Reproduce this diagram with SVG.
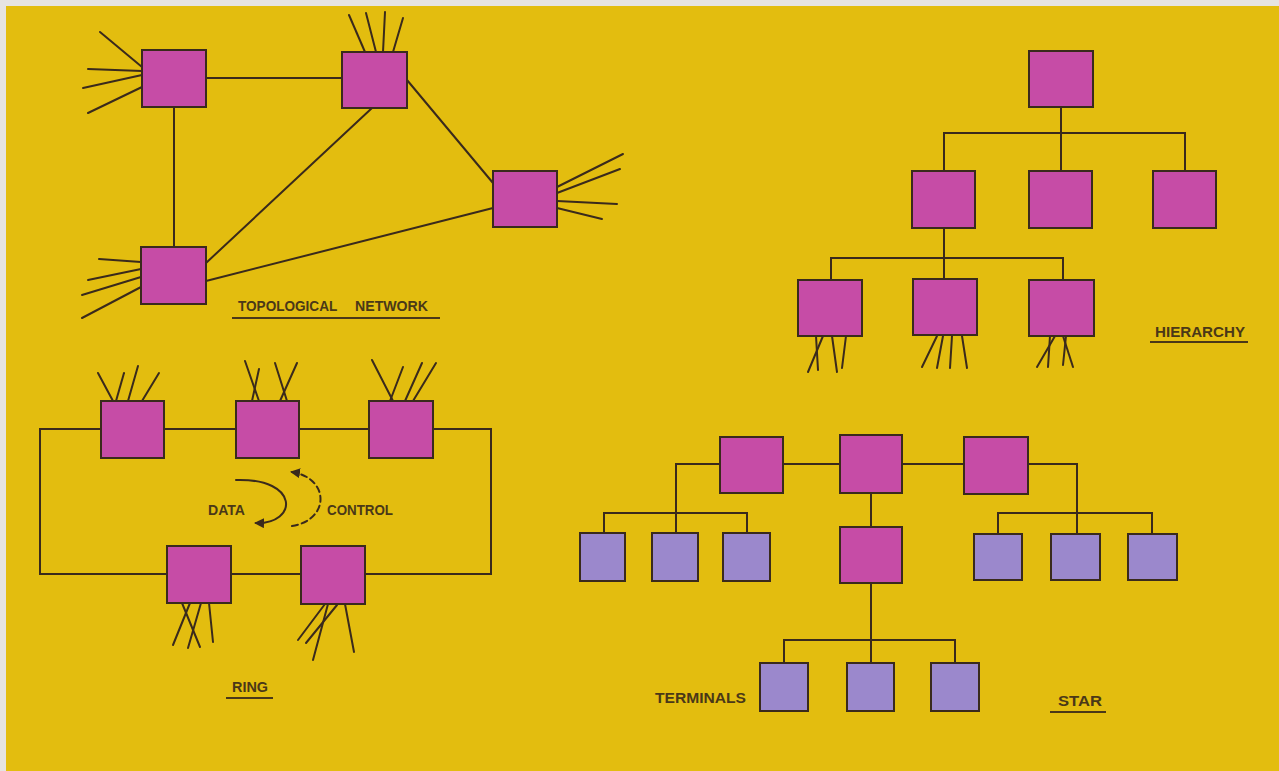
<svg xmlns="http://www.w3.org/2000/svg" width="1279" height="771" viewBox="0 0 1279 771">
<style>
.ln{stroke:#3a2a1c;stroke-width:2;fill:none;stroke-linecap:round}
.m{fill:#c64ca6;stroke:#3a2a1c;stroke-width:2}
.t{fill:#9b88cc;stroke:#3a2a1c;stroke-width:2}
.lb{font-family:"Liberation Sans",Arial,sans-serif;font-weight:bold;font-size:14px;fill:#4a3818}
.ul{stroke:#4a3818;stroke-width:2}
</style>
<defs>
<marker id="ah" viewBox="0 0 10 10" refX="8" refY="5" markerWidth="5" markerHeight="5" orient="auto" markerUnits="strokeWidth">
<path d="M0,0 L10,5 L0,10 z" fill="#3a2a1c"/>
</marker>
</defs>
<rect x="0" y="0" width="1279" height="771" fill="#e6e4e2"/>
<rect x="6" y="6" width="1273" height="765" fill="#e3bd0f"/>

<g id="connectors" class="ln">
<!-- topological -->
<line x1="206" y1="78" x2="342" y2="78"/>
<line x1="174" y1="107" x2="174" y2="247"/>
<line x1="372" y1="108" x2="206" y2="263"/>
<line x1="407" y1="80" x2="493" y2="183"/>
<line x1="206" y1="281" x2="493" y2="208"/>
<!-- topological stubs -->
<line x1="100" y1="32" x2="142" y2="67"/>
<line x1="88" y1="69" x2="142" y2="71"/>
<line x1="83" y1="88" x2="142" y2="75"/>
<line x1="88" y1="113" x2="142" y2="87"/>
<line x1="349" y1="15" x2="365" y2="52"/>
<line x1="366" y1="13" x2="376" y2="52"/>
<line x1="385" y1="12" x2="383" y2="52"/>
<line x1="403" y1="18" x2="393" y2="52"/>
<line x1="557" y1="187" x2="623" y2="154"/>
<line x1="557" y1="193" x2="620" y2="169"/>
<line x1="557" y1="201" x2="617" y2="204"/>
<line x1="557" y1="208" x2="602" y2="219"/>
<line x1="99" y1="259" x2="141" y2="262"/>
<line x1="88" y1="280" x2="141" y2="269"/>
<line x1="82" y1="295" x2="141" y2="277"/>
<line x1="82" y1="318" x2="141" y2="287"/>
<!-- hierarchy -->
<polyline points="1061,107 1061,133"/>
<polyline points="944,171 944,133 1185,133 1185,171"/>
<line x1="1061" y1="133" x2="1061" y2="171"/>
<polyline points="944,228 944,258"/>
<polyline points="831,280 831,258 1063,258 1063,280"/>
<line x1="944" y1="258" x2="944" y2="280"/>
<line x1="823" y1="336" x2="808" y2="372"/>
<line x1="816" y1="336" x2="818" y2="370"/>
<line x1="832" y1="336" x2="837" y2="372"/>
<line x1="846" y1="336" x2="842" y2="368"/>
<line x1="937" y1="336" x2="922" y2="367"/>
<line x1="943" y1="336" x2="937" y2="368"/>
<line x1="952" y1="336" x2="950" y2="368"/>
<line x1="962" y1="336" x2="967" y2="368"/>
<line x1="1055" y1="336" x2="1037" y2="367"/>
<line x1="1050" y1="336" x2="1048" y2="367"/>
<line x1="1063" y1="336" x2="1073" y2="367"/>
<line x1="1066" y1="336" x2="1063" y2="365"/>
<!-- ring -->
<polyline points="101,429 40,429 40,574 491,574 491,429 433,429"/>
<line x1="164" y1="429" x2="236" y2="429"/>
<line x1="299" y1="429" x2="369" y2="429"/>
<line x1="98" y1="373" x2="113" y2="401"/>
<line x1="124" y1="373" x2="116" y2="401"/>
<line x1="138" y1="366" x2="128" y2="401"/>
<line x1="159" y1="373" x2="142" y2="401"/>
<line x1="245" y1="361" x2="259" y2="401"/>
<line x1="259" y1="369" x2="252" y2="401"/>
<line x1="275" y1="363" x2="287" y2="401"/>
<line x1="297" y1="363" x2="280" y2="401"/>
<line x1="372" y1="360" x2="393" y2="401"/>
<line x1="403" y1="367" x2="390" y2="401"/>
<line x1="422" y1="363" x2="405" y2="401"/>
<line x1="436" y1="363" x2="413" y2="401"/>
<line x1="182" y1="603" x2="200" y2="647"/>
<line x1="190" y1="603" x2="173" y2="645"/>
<line x1="201" y1="603" x2="188" y2="648"/>
<line x1="209" y1="603" x2="213" y2="642"/>
<line x1="325" y1="604" x2="298" y2="640"/>
<line x1="337" y1="605" x2="306" y2="643"/>
<line x1="328" y1="604" x2="313" y2="660"/>
<line x1="345" y1="604" x2="354" y2="652"/>
<path d="M236,480 C300,478 298,524 256,523" marker-end="url(#ah)"/>
<path d="M292,526 C330,520 330,478 292,472" stroke-dasharray="6,4" marker-end="url(#ah)"/>
<!-- star -->
<line x1="783" y1="464" x2="840" y2="464"/>
<line x1="902" y1="464" x2="964" y2="464"/>
<polyline points="720,464 676,464 676,533"/>
<polyline points="604,533 604,513 747,513 747,533"/>
<polyline points="1028,464 1077,464 1077,534"/>
<polyline points="998,534 998,513 1152,513 1152,534"/>
<line x1="871" y1="493" x2="871" y2="527"/>
<line x1="871" y1="583" x2="871" y2="663"/>
<polyline points="784,663 784,640 955,640 955,663"/>
</g>

<g id="topo-a"><rect class="m" x="142" y="50" width="64" height="57"/></g>
<g id="topo-b"><rect class="m" x="342" y="52" width="65" height="56"/></g>
<g id="topo-c"><rect class="m" x="493" y="171" width="64" height="56"/></g>
<g id="topo-d"><rect class="m" x="141" y="247" width="65" height="57"/></g>

<g id="hier-top"><rect class="m" x="1029" y="51" width="64" height="56"/></g>
<g id="hier-m1"><rect class="m" x="912" y="171" width="63" height="57"/></g>
<g id="hier-m2"><rect class="m" x="1029" y="171" width="63" height="57"/></g>
<g id="hier-m3"><rect class="m" x="1153" y="171" width="63" height="57"/></g>
<g id="hier-b1"><rect class="m" x="798" y="280" width="64" height="56"/></g>
<g id="hier-b2"><rect class="m" x="913" y="279" width="64" height="56"/></g>
<g id="hier-b3"><rect class="m" x="1029" y="280" width="65" height="56"/></g>

<g id="ring-1"><rect class="m" x="101" y="401" width="63" height="57"/></g>
<g id="ring-2"><rect class="m" x="236" y="401" width="63" height="57"/></g>
<g id="ring-3"><rect class="m" x="369" y="401" width="64" height="57"/></g>
<g id="ring-4"><rect class="m" x="167" y="546" width="64" height="57"/></g>
<g id="ring-5"><rect class="m" x="301" y="546" width="64" height="58"/></g>

<g id="star-l"><rect class="m" x="720" y="437" width="63" height="56"/></g>
<g id="star-c"><rect class="m" x="840" y="435" width="62" height="58"/></g>
<g id="star-r"><rect class="m" x="964" y="437" width="64" height="57"/></g>
<g id="star-low"><rect class="m" x="840" y="527" width="62" height="56"/></g>
<g id="term-l1"><rect class="t" x="580" y="533" width="45" height="48"/></g>
<g id="term-l2"><rect class="t" x="652" y="533" width="46" height="48"/></g>
<g id="term-l3"><rect class="t" x="723" y="533" width="47" height="48"/></g>
<g id="term-r1"><rect class="t" x="974" y="534" width="48" height="46"/></g>
<g id="term-r2"><rect class="t" x="1051" y="534" width="49" height="46"/></g>
<g id="term-r3"><rect class="t" x="1128" y="534" width="49" height="46"/></g>
<g id="term-b1"><rect class="t" x="760" y="663" width="48" height="48"/></g>
<g id="term-b2"><rect class="t" x="847" y="663" width="47" height="48"/></g>
<g id="term-b3"><rect class="t" x="931" y="663" width="48" height="48"/></g>

<g id="labels">
<text class="lb" y="311"><tspan x="238" textLength="99" lengthAdjust="spacingAndGlyphs">TOPOLOGICAL</tspan> <tspan x="355" textLength="73" lengthAdjust="spacingAndGlyphs">NETWORK</tspan></text>
<line class="ul" x1="232" y1="318" x2="440" y2="318"/>
<text class="lb" x="1155" y="337" textLength="90" lengthAdjust="spacingAndGlyphs">HIERARCHY</text>
<line class="ul" x1="1150" y1="342" x2="1248" y2="342"/>
<text class="lb" x="208" y="515" textLength="37" lengthAdjust="spacingAndGlyphs">DATA</text>
<text class="lb" x="327" y="515" textLength="66" lengthAdjust="spacingAndGlyphs">CONTROL</text>
<text class="lb" x="232" y="692" textLength="36" lengthAdjust="spacingAndGlyphs">RING</text>
<line class="ul" x1="226" y1="698" x2="273" y2="698"/>
<text class="lb" x="655" y="703" textLength="91" lengthAdjust="spacingAndGlyphs">TERMINALS</text>
<text class="lb" x="1058" y="706" textLength="44" lengthAdjust="spacingAndGlyphs">STAR</text>
<line class="ul" x1="1050" y1="712" x2="1106" y2="712"/>
</g>
</svg>
